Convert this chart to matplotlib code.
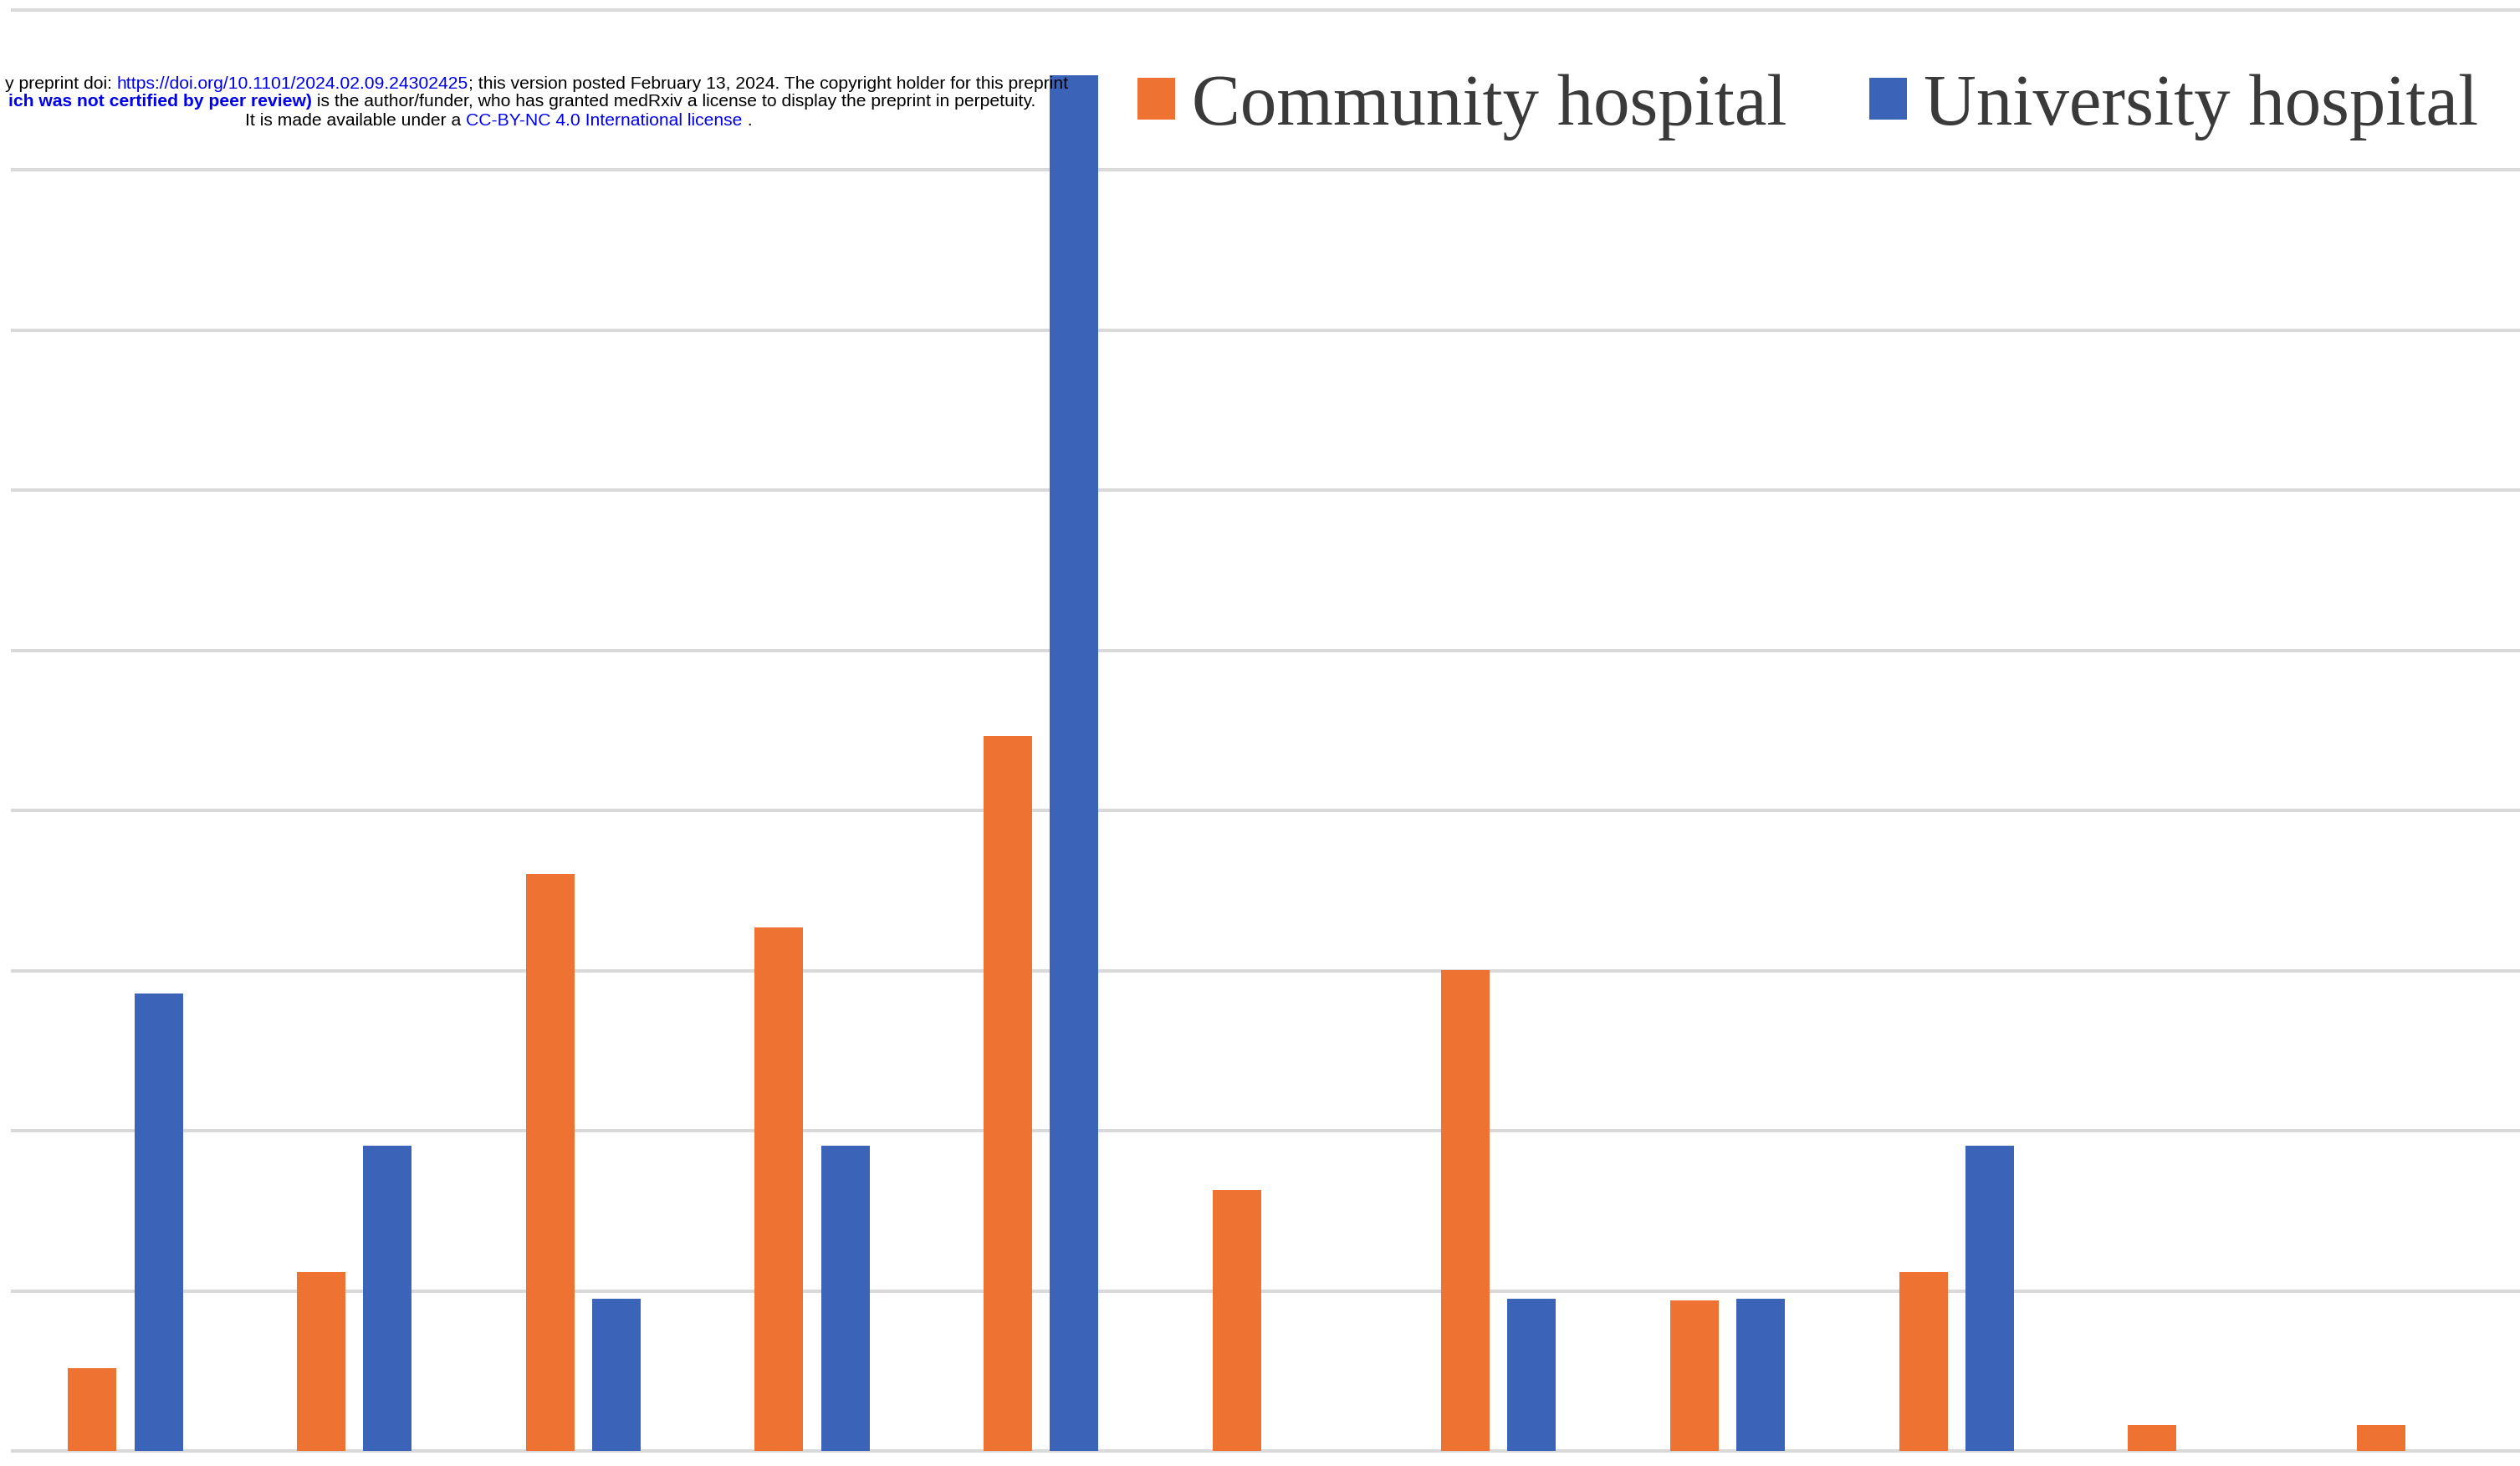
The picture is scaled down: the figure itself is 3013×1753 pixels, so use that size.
import matplotlib
matplotlib.use("Agg")
import matplotlib.pyplot as plt
import numpy as np

# percentages (gridlines every 5 %)
categories = ["1", "2", "3", "4", "5", "6", "7", "8", "9", "10", "11"]
community = [2.59, 5.58, 18.02, 16.35, 22.33, 8.16, 15.02, 4.71, 5.58, 0.80, 0.80]
university = [14.29, 9.52, 4.76, 9.52, 42.95, 0.0, 4.76, 4.76, 9.52, 0.0, 0.0]
series_names = ["Community hospital", "University hospital"]
grid_levels = [0, 5, 10, 15, 20, 25, 30, 35, 40, 45]

ORANGE = "#EE7231"
BLUE = "#3B64B9"
GRID = "#D9D9D9"

W, H = 3013, 1753
fig = plt.figure(figsize=(W / 100, H / 100), dpi=100)
fig.patch.set_facecolor("white")

# plot area: -0.5..10.5 categories, 0..45 %
left_px, bottom_px, top_px = 13.2, 1735, 11.7
cat_px = 273.65
ax = fig.add_axes([left_px / W, (H - bottom_px) / H,
                   len(categories) * cat_px / W, (bottom_px - top_px) / H])
ax.set_xlim(-0.5, len(categories) - 0.5)
ax.set_ylim(0, 45)

x = np.arange(len(categories))
bw = 0.212
off = 0.1445
ax.hlines(grid_levels, -0.5, len(categories) - 0.5, color=GRID, lw=2.9,
          zorder=0, clip_on=False)
ax.bar(x - off, community, bw, color=ORANGE, label=series_names[0], zorder=2)
ax.bar(x + off, university, bw, color=BLUE, label=series_names[1], zorder=2)

for s in ax.spines.values():
    s.set_visible(False)
ax.set_xticks([])
ax.set_yticks([])
ax.patch.set_alpha(0)

leg = ax.legend(ncol=2, loc="center left",
                bbox_to_anchor=(1360 / W, 1 - 128 / H), bbox_transform=fig.transFigure,
                frameon=False, prop={"family": "Liberation Serif", "size": 62.6},
                handlelength=0.52, handleheight=0.52, handletextpad=0.23,
                columnspacing=1.13, borderpad=0, borderaxespad=0)
for t in leg.get_texts():
    t.set_color("#3A3A3A")

# medRxiv header stamped over the figure
renderer = fig.canvas.get_renderer()


def advance(s, **kw):
    t = fig.text(0, 0, s + ".", **kw)
    w1 = t.get_window_extent(renderer).width
    t.set_text(".")
    w2 = t.get_window_extent(renderer).width
    t.remove()
    return w1 - w2


def draw_line(pieces, y_px, x_px, anchor="left", size=15.2):
    kws = []
    widths = []
    for s, color, weight in pieces:
        kw = dict(fontsize=size, family="Liberation Sans", color=color, fontweight=weight)
        kws.append(kw)
        widths.append(advance(s, **kw))
    pos = x_px if anchor == "left" else x_px - sum(widths)
    for (s, _, _), kw, w in zip(pieces, kws, widths):
        fig.text(pos / W, 1 - y_px / H, s, va="baseline", ha="left", **kw)
        pos += w


LINK = "#0000EE"
draw_line([("y preprint doi: ", "black", "normal"),
           ("https://doi.org/10.1101/2024.02.09.24302425", LINK, "normal"),
           ("; this version posted February 13, 2024. The copyright holder for this preprint",
            "black", "normal")], 106, 1277, anchor="right")
draw_line([("ich was not certified by peer review)", LINK, "bold"),
           (" is the author/funder, who has granted medRxiv a license to display the preprint in perpetuity.",
            "black", "normal")], 127, 1238, anchor="right")
draw_line([("It is made available under a ", "black", "normal"),
           ("CC-BY-NC 4.0 International license", LINK, "normal"),
           (" .", "black", "normal")], 150, 293, anchor="left")

fig.savefig("out.png", dpi=100, facecolor="white")
